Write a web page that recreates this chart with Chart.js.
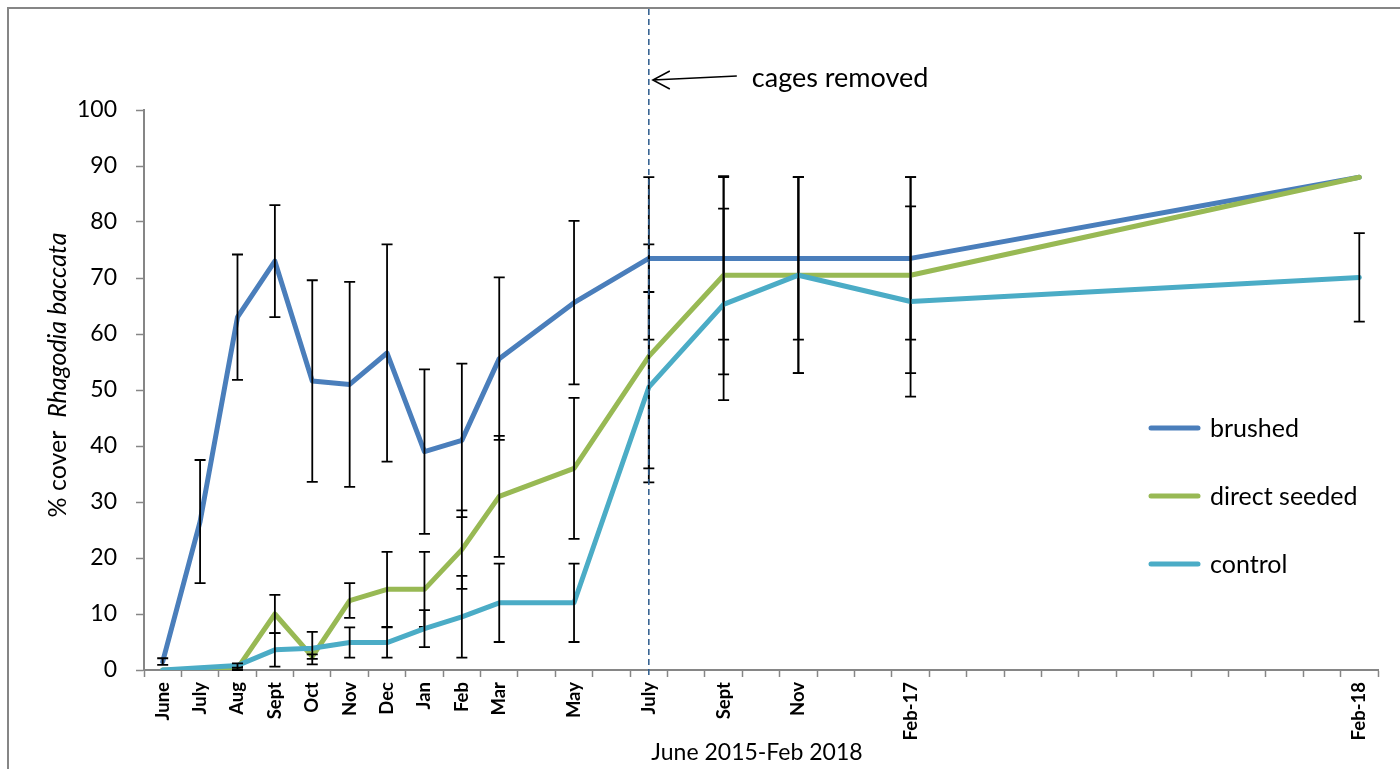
<!DOCTYPE html>
<html>
<head>
<meta charset="utf-8">
<title>% cover Rhagodia baccata, June 2015 - Feb 2018</title>
<script src="https://cdn.jsdelivr.net/npm/chart.js@4.4.1/dist/chart.umd.min.js"></script>
<style>
  html, body { margin: 0; padding: 0; background: #ffffff; }
  #wrap { width: 1400px; height: 769px; position: relative; }
</style>
</head>
<body>
<div id="wrap"><canvas id="chart"></canvas></div>
<script>
// Monthly survey slots, June 2015 to Feb 2018 (unlabelled months were not surveyed)
const monthLabels = ['June','July','Aug','Sept','Oct','Nov','Dec','Jan','Feb','Mar','','May','','July','','Sept','','Nov','','','Feb-17',
  '','','','','','','','','','','','Feb-18'];

// Mean % cover per treatment
const brushed = [1.5, 26.5, 63, 73, 51.6, 51, 56.6, 39, 41, 55.6, null, 65.6, null, 73.5, null, 73.5, null, 73.5, null, null, 73.5,
  null, null, null, null, null, null, null, null, null, null, null, 88];
const directSeeded = [0, 0, 0.3, 10, 2.4, 12.4, 14.4, 14.4, 21.5, 31, null, 36, null, 56, null, 70.5, null, 70.5, null, null, 70.5,
  null, null, null, null, null, null, null, null, null, null, null, 88];
const control = [0, 0.4, 0.8, 3.6, 3.9, 4.9, 4.9, 7.4, 9.5, 12, null, 12, null, 50.5, null, 65.3, null, 70.5, null, null, 65.8,
  null, null, null, null, null, null, null, null, null, null, null, 70.1];

// Error (±) per point
const brushedErr = [0.6, 11, 11.2, 10, 18, 18.3, 19.4, 14.7, 13.7, 14.5, null, 14.6, null, 14.5, null, 14.5, null, 14.5, null, null, 14.5,
  null, null, null, null, null, null, null, null, null, null, null, 0];
const directSeededErr = [0, 0, 0.3, 3.4, 0.4, 3.1, 6.7, 6.7, 7, 10.8, null, 12.6, null, 20, null, 17.7, null, 17.5, null, null, 17.5,
  null, null, null, null, null, null, null, null, null, null, null, 0];
const controlErr = [0, 0, 0.4, 3, 2.9, 2.7, 2.7, 3.3, 7.3, 7, null, 7, null, 17, null, 17.1, null, 17.5, null, null, 17,
  null, null, null, null, null, null, null, null, null, null, null, 7.9];

const yTicks = [0, 10, 20, 30, 40, 50, 60, 70, 80, 90, 100];
const cagesRemovedIndex = 13;

const FONT = 'Lato, "Open Sans", sans-serif';
const AXIS_GREY = '#868686';
const errorSets = [brushedErr, directSeededErr, controlErr];

// Outer frame of the chart
const framePlugin = {
  id: 'frame',
  beforeDraw(chart) {
    const ctx = chart.ctx;
    ctx.save();
    ctx.fillStyle = '#ffffff';
    ctx.fillRect(0, 0, chart.width, chart.height);
    ctx.strokeStyle = AXIS_GREY;
    ctx.lineWidth = 2;
    ctx.strokeRect(8, 8, chart.width + 20, chart.height + 20);
    ctx.restore();
  }
};

// Symmetric error bars, drawn with each series
const errorBarPlugin = {
  id: 'errorBars',
  afterDatasetDraw(chart, args) {
    const errs = errorSets[args.index];
    const y = chart.scales.y;
    const ctx = chart.ctx;
    ctx.save();
    ctx.strokeStyle = '#000000';
    ctx.lineWidth = 1.8;
    args.meta.data.forEach((pt, i) => {
      const v = chart.data.datasets[args.index].data[i];
      const e = errs[i];
      if (v === null || e === null || !e) return;
      const top = y.getPixelForValue(v + e);
      const bot = y.getPixelForValue(v - e);
      const x = pt.x;
      ctx.beginPath();
      ctx.moveTo(x, top); ctx.lineTo(x, bot);
      ctx.moveTo(x - 5.5, top); ctx.lineTo(x + 5.5, top);
      ctx.moveTo(x - 5.5, bot); ctx.lineTo(x + 5.5, bot);
      ctx.stroke();
    });
    ctx.restore();
  }
};

// Axis titles, legend, and the "cages removed" marker
const annotationPlugin = {
  id: 'annotations',
  afterDraw(chart) {
    const ctx = chart.ctx;
    const area = chart.chartArea;
    const xs = chart.scales.x;
    ctx.save();

    // vertical dashed marker
    const mx = xs.getPixelForValue(cagesRemovedIndex);
    ctx.strokeStyle = '#2b5a8c';
    ctx.lineWidth = 1.5;
    ctx.setLineDash([6, 4]);
    ctx.beginPath();
    ctx.moveTo(mx, 9);
    ctx.lineTo(mx, area.bottom + 8);
    ctx.stroke();
    ctx.setLineDash([]);

    // arrow and label
    ctx.strokeStyle = '#000000';
    ctx.lineWidth = 1.5;
    const tipX = mx + 4, tipY = 80;
    ctx.beginPath();
    ctx.moveTo(mx + 88, 76);
    ctx.lineTo(tipX, tipY);
    ctx.moveTo(tipX + 17, tipY - 9);
    ctx.lineTo(tipX, tipY);
    ctx.lineTo(tipX + 17, tipY + 9);
    ctx.stroke();
    ctx.fillStyle = '#000000';
    ctx.font = '27px ' + FONT;
    ctx.textAlign = 'left';
    ctx.textBaseline = 'alphabetic';
    ctx.fillText('cages removed', mx + 103, 87);

    // x-axis title
    ctx.font = '23px ' + FONT;
    ctx.textAlign = 'center';
    ctx.fillText('June 2015-Feb 2018', (area.left + area.right) / 2 - 4, 760);

    // y-axis title with italic species name
    const plain = '% cover  ';
    const ital = 'Rhagodia baccata';
    const ySize = 25;
    ctx.font = ySize + 'px ' + FONT;
    const w1 = ctx.measureText(plain).width;
    ctx.font = 'italic ' + ySize + 'px ' + FONT;
    const w2 = ctx.measureText(ital).width;
    ctx.translate(66, 375);
    ctx.rotate(-Math.PI / 2);
    ctx.textAlign = 'left';
    const start = -(w1 + w2) / 2;
    ctx.font = ySize + 'px ' + FONT;
    ctx.fillText(plain, start, 0);
    ctx.font = 'italic ' + ySize + 'px ' + FONT;
    ctx.fillText(ital, start + w1, 0);
    ctx.setTransform(1, 0, 0, 1, 0, 0);

    // legend
    const legendY = [428, 496, 564];
    ctx.font = '25px ' + FONT;
    ctx.textAlign = 'left';
    ctx.textBaseline = 'middle';
    chart.data.datasets.forEach((ds, i) => {
      const ly = legendY[i];
      ctx.strokeStyle = ds.borderColor;
      ctx.lineWidth = 5;
      ctx.lineCap = 'round';
      ctx.beginPath();
      ctx.moveTo(1151, ly);
      ctx.lineTo(1198, ly);
      ctx.stroke();
      ctx.fillStyle = '#000000';
      ctx.fillText(ds.label, 1210, ly + 1);
    });
    ctx.restore();
  }
};

const lineStyle = {
  borderWidth: 5,
  pointRadius: 0,
  pointHoverRadius: 0,
  tension: 0,
  spanGaps: true,
  borderJoinStyle: 'round',
  borderCapStyle: 'round',
  fill: false
};

new Chart(document.getElementById('chart'), {
  type: 'line',
  data: {
    labels: monthLabels,
    datasets: [
      Object.assign({ label: 'brushed', data: brushed, borderColor: '#4a7ebb', order: 3 }, lineStyle),
      Object.assign({ label: 'direct seeded', data: directSeeded, borderColor: '#98b954', order: 2 }, lineStyle),
      Object.assign({ label: 'control', data: control, borderColor: '#4bacc6', order: 1 }, lineStyle)
    ]
  },
  options: {
    responsive: true,
    maintainAspectRatio: false,
    animation: false,
    events: [],
    layout: { padding: { top: 110, right: 22, left: 0, bottom: 0 } },
    plugins: {
      legend: { display: false },
      tooltip: { enabled: false },
      title: { display: false }
    },
    scales: {
      x: {
        type: 'category',
        offset: true,
        grid: {
          offset: true,
          drawOnChartArea: false,
          drawTicks: true,
          tickLength: 7,
          tickWidth: 1.5,
          color: AXIS_GREY
        },
        border: { display: true, color: AXIS_GREY, width: 2 },
        ticks: {
          autoSkip: false,
          minRotation: 90,
          maxRotation: 90,
          padding: 5,
          color: '#000000',
          font: { family: FONT, size: 18.5, weight: 'bold' }
        },
        afterFit(scale) { scale.height = 99; }
      },
      y: {
        min: 0,
        max: 100,
        afterBuildTicks(scale) { scale.ticks = yTicks.map(v => ({ value: v })); },
        grid: {
          drawOnChartArea: false,
          drawTicks: true,
          tickLength: 8,
          tickWidth: 1.5,
          color: AXIS_GREY
        },
        border: { display: true, color: AXIS_GREY, width: 2 },
        ticks: {
          padding: 19,
          color: '#000000',
          font: { family: FONT, size: 23 }
        },
        afterFit(scale) { scale.width = 144; }
      }
    }
  },
  plugins: [framePlugin, errorBarPlugin, annotationPlugin]
});
</script>
</body>
</html>
